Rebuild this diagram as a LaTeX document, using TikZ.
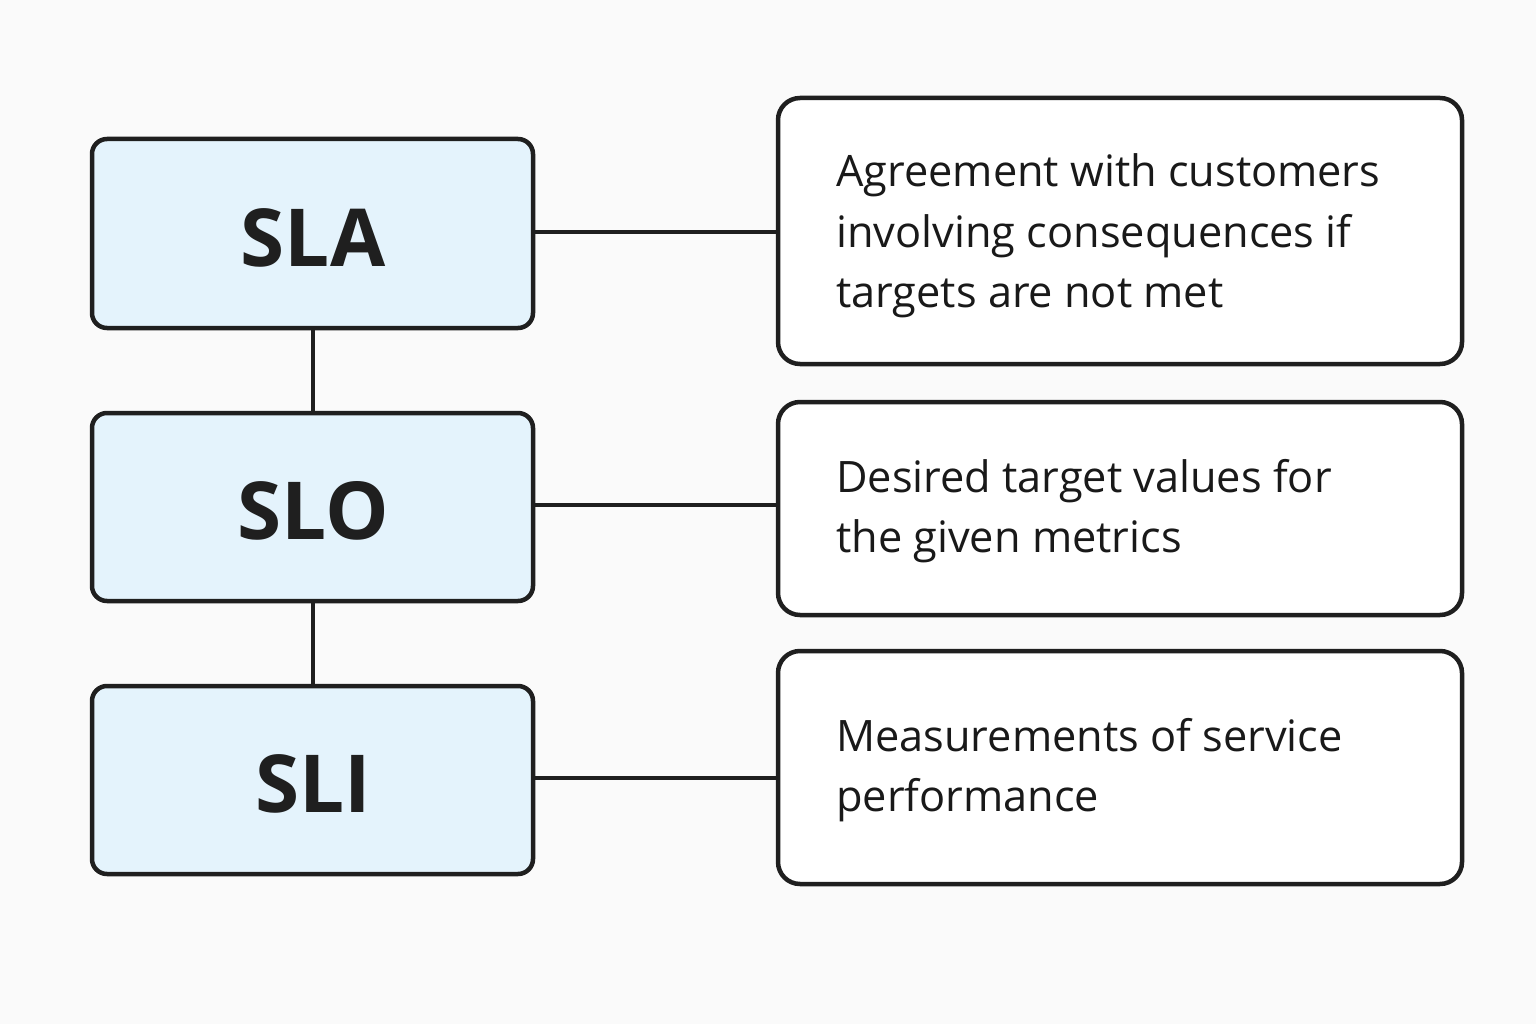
\documentclass[tikz,border=0pt]{standalone}
\usepackage{fontspec}
\setmainfont{Open Sans}
\definecolor{lfill}{HTML}{E4F3FC}
\begin{document}
\begin{tikzpicture}[x=1pt,y=-1pt,
  lbox/.style={draw=black!88,line width=4.5pt,rounded corners=15pt,fill=lfill},
  rbox/.style={draw=black!88,line width=4.5pt,rounded corners=22pt,fill=white},
  conn/.style={draw=black!88,line width=4pt},
  ltxt/.style={font=\fontsize{80}{90}\selectfont\bfseries,text=black!88},
  rtxt/.style={font=\fontsize{43.3}{60}\selectfont,text=black!90,align=left,anchor=base west,inner sep=0pt}]
\fill[gray!4] (0,0) rectangle (1536,1024);
\useasboundingbox (0,0) rectangle (1536,1024);
\path[lbox] (92,139) rectangle (533,328);
\path[lbox] (92,413) rectangle (533,601);
\path[lbox] (92,686) rectangle (533,874);
\path[rbox] (778,98) rectangle (1462,364);
\path[rbox] (778,402) rectangle (1462,615);
\path[rbox] (778,651) rectangle (1462,884);
\coordinate (a) at (533,232); \coordinate (ar) at (778,232);
\coordinate (o) at (533,505); \coordinate (or) at (778,505);
\coordinate (i) at (533,778); \coordinate (ir) at (778,778);
\coordinate (ab) at (313,328); \coordinate (ot) at (313,413);
\coordinate (ob) at (313,601); \coordinate (it) at (313,686);
\draw[conn] (a) -- (ar); \draw[conn] (o) -- (or); \draw[conn] (i) -- (ir);
\draw[conn] (ab) -- (ot); \draw[conn] (ob) -- (it);
\node[ltxt] (sla) at (313,238) {SLA};
\node[ltxt] (slo) at (313,511) {SLO};
\node[ltxt] (sli) at (313,784) {SLI};
\node[rtxt] (ta) at (836,307) {Agreement with customers\\involving consequences if\\targets are not met};
\node[rtxt] (to) at (836,552) {Desired target values for\\the given metrics};
\node[rtxt] (ti) at (836,811) {Measurements of service\\performance};
\end{tikzpicture}
\end{document}
